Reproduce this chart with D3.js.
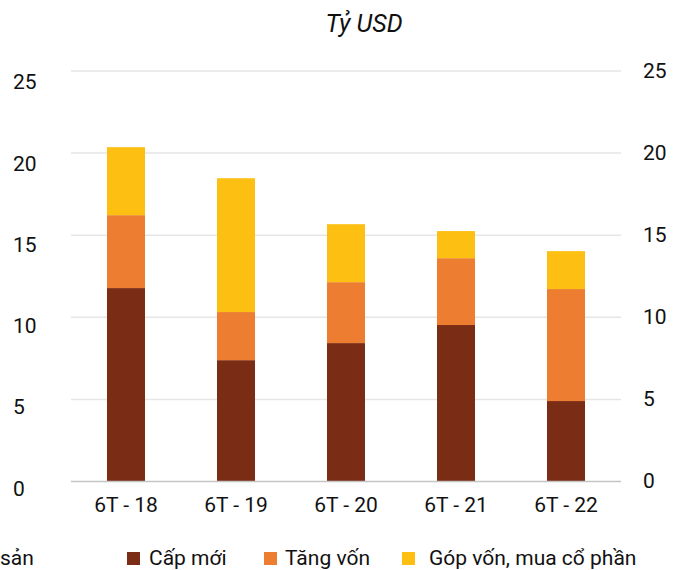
<!DOCTYPE html>
<html>
<head>
<meta charset="utf-8">
<script src="https://cdn.jsdelivr.net/npm/d3@7"></script>
<style>
  html, body { margin: 0; padding: 0; background: #fff; }
  svg { display: block; font-family: Roboto, "Noto Sans", sans-serif; }
</style>
</head>
<body>
<svg id="chart" width="677" height="570"></svg>
<script>
// FDI registered capital, first six months of each year (billion USD)
const categories = ["6T - 18", "6T - 19", "6T - 20", "6T - 21", "6T - 22"];
const capMoi   = [11.78, 7.39, 8.43, 9.53, 4.90];
const tangVon  = [4.44, 2.93, 3.71, 4.07, 6.82];
const gopVon   = [4.14, 8.15, 3.53, 1.65, 2.31];
const yTicks   = [0, 5, 10, 15, 20, 25];
const seriesNames = ["Cấp mới", "Tăng vốn", "Góp vốn, mua cổ phần"];
const colors = ["#7B2C14", "#ED7D31", "#FDBF11"];

const FS = 21;
const svg = d3.select("#chart");

const x = d3.scaleBand()
  .domain(categories)
  .range([71, 621])
  .paddingInner(0.6545)
  .paddingOuter(0.6545 / 2);

const y = d3.scaleLinear().domain([0, 25]).range([481.5, 71]);
// tick labels on the left sit slightly lower than the gridlines
const yLeft = d3.scaleLinear().domain([0, 25]).range([488, 81.7]);

// gridlines
svg.append("g")
  .selectAll("line")
  .data(yTicks.filter(d => d > 0))
  .join("line")
  .attr("x1", 71).attr("x2", 621)
  .attr("y1", d => y(d)).attr("y2", d => y(d))
  .attr("stroke", "#e6e6e6")
  .attr("stroke-width", 1.5);

// stacked bars
const rows = categories.map((c, i) => ({
  cat: c, s0: capMoi[i], s1: tangVon[i], s2: gopVon[i]
}));
const stack = d3.stack().keys(["s0", "s1", "s2"]);
const layers = stack(rows);

svg.append("g")
  .selectAll("g")
  .data(layers)
  .join("g")
  .attr("fill", (d, i) => colors[i])
  .selectAll("rect")
  .data(d => d)
  .join("rect")
  .attr("x", d => x(d.data.cat))
  .attr("width", x.bandwidth())
  .attr("y", d => y(d[1]))
  .attr("height", d => y(d[0]) - y(d[1]));

// baseline
svg.append("line")
  .attr("x1", 71).attr("x2", 621)
  .attr("y1", y(0)).attr("y2", y(0))
  .attr("stroke", "#c4c4c4")
  .attr("stroke-width", 1.5);

// category labels
const xAxis = d3.axisBottom(x).tickSize(0).tickPadding(0);
const gx = svg.append("g")
  .attr("transform", `translate(0,${y(0)})`)
  .call(xAxis);
gx.select(".domain").remove();
gx.selectAll("text")
  .attr("y", 30)
  .attr("dy", 0)
  .attr("font-size", FS)
  .attr("font-family", "Roboto, sans-serif")
  .attr("fill", "#111");

// left value labels
svg.append("g")
  .selectAll("text")
  .data(yTicks)
  .join("text")
  .attr("x", 13)
  .attr("y", d => yLeft(d))
  .attr("dy", "0.36em")
  .attr("font-size", FS)
  .attr("fill", "#111")
  .text(d => d);

// right value labels
svg.append("g")
  .selectAll("text")
  .data(yTicks)
  .join("text")
  .attr("x", 643)
  .attr("y", d => y(d) - 1)
  .attr("dy", "0.36em")
  .attr("font-size", FS)
  .attr("fill", "#111")
  .text(d => d);

// unit title
svg.append("text")
  .attr("x", 364)
  .attr("y", 32)
  .attr("text-anchor", "middle")
  .attr("font-size", 25)
  .attr("font-style", "italic")
  .attr("fill", "#111")
  .text("Tỷ USD");

// legend
svg.append("text")
  .attr("x", 0).attr("y", 565)
  .attr("font-size", FS).attr("fill", "#111")
  .text("sản");

const legendX = [127, 264, 402];
const legendTextX = [149, 285, 429];
const lg = svg.append("g");
seriesNames.forEach((name, i) => {
  lg.append("rect")
    .attr("x", legendX[i]).attr("y", 552)
    .attr("width", 13).attr("height", 13)
    .attr("fill", colors[i]);
  lg.append("text")
    .attr("x", legendTextX[i]).attr("y", 565)
    .attr("font-size", FS).attr("fill", "#111")
    .text(name);
});
</script>
</body>
</html>
